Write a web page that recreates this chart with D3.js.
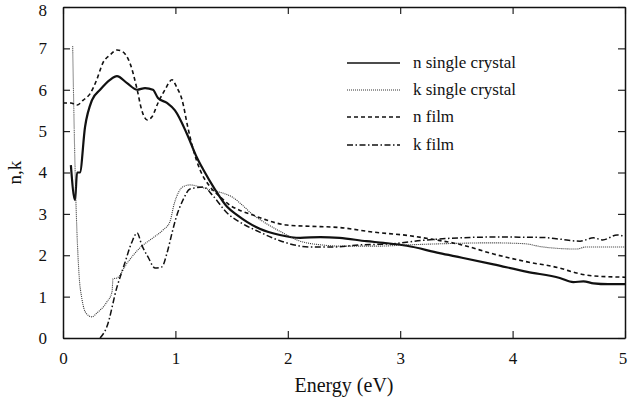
<!DOCTYPE html>
<html>
<head>
<meta charset="utf-8">
<script src="https://cdn.jsdelivr.net/npm/d3@7"></script>
<style>
  html, body { margin: 0; padding: 0; background: #fff; }
  svg { display: block; }
  svg text { font-family: "Liberation Serif", "DejaVu Serif", serif !important; fill: #111; }
</style>
</head>
<body>
<svg id="chart" width="628" height="402"></svg>
<script>
// Optical constants n and k versus photon energy (eV)
const seriesNames = ["n single crystal", "k single crystal", "n film", "k film"];

const nCrystal = [
  [0.07,4.18],[0.107,3.33],[0.125,4.0],[0.15,4.0],[0.196,5.1],[0.258,5.75],[0.33,6.0],
  [0.418,6.24],[0.48,6.33],[0.57,6.16],[0.66,6.0],[0.73,6.04],[0.80,6.0],[0.845,5.8],
  [0.925,5.68],[0.996,5.5],[1.10,4.95],[1.19,4.37],[1.25,4.06],[1.35,3.6],[1.46,3.17],
  [1.55,2.97],[1.64,2.8],[1.75,2.64],[1.93,2.49],[2.11,2.42],[2.29,2.44],[2.46,2.42],
  [2.70,2.34],[2.85,2.3],[3.06,2.23],[3.35,2.05],[3.55,1.94],[3.83,1.78],[4.13,1.6],
  [4.42,1.45],[4.54,1.35],[4.63,1.37],[4.72,1.32],[4.85,1.3],[5.0,1.3]
];

const kCrystal = [
  [0.086,7.05],[0.1,5.0],[0.115,3.3],[0.125,2.5],[0.142,1.56],[0.17,0.92],[0.205,0.6],
  [0.258,0.51],[0.30,0.6],[0.39,0.87],[0.436,1.11],[0.445,1.43],[0.48,1.45],[0.57,1.81],
  [0.685,2.18],[0.80,2.42],[0.89,2.61],[0.95,2.8],[0.99,3.25],[1.07,3.66],[1.13,3.7],
  [1.22,3.65],[1.31,3.58],[1.40,3.52],[1.51,3.4],[1.6,3.2],[1.68,3.0],[1.8,2.78],
  [1.95,2.55],[2.1,2.35],[2.3,2.25],[2.5,2.22],[2.8,2.22],[3.06,2.25],[3.4,2.28],
  [3.8,2.3],[4.1,2.28],[4.27,2.2],[4.57,2.15],[4.65,2.2],[5.0,2.2]
];

const nFilm = [
  [0.0,5.68],[0.07,5.68],[0.125,5.63],[0.18,5.75],[0.24,5.9],[0.30,6.24],[0.355,6.65],
  [0.418,6.84],[0.48,6.96],[0.53,6.92],[0.596,6.64],[0.66,6.0],[0.70,5.51],[0.75,5.27],
  [0.79,5.34],[0.845,5.68],[0.907,6.0],[0.97,6.24],[1.01,6.07],[1.06,5.75],[1.11,5.1],
  [1.16,4.54],[1.22,4.06],[1.31,3.65],[1.40,3.41],[1.49,3.2],[1.57,3.09],[1.69,2.97],
  [1.81,2.85],[1.99,2.73],[2.2,2.70],[2.46,2.67],[2.76,2.56],[3.06,2.48],[3.3,2.38],
  [3.55,2.25],[3.83,2.03],[4.13,1.84],[4.42,1.69],[4.57,1.57],[4.72,1.5],[5.0,1.47]
];

const kFilm = [
  [0.33,0.0],[0.39,0.27],[0.48,1.23],[0.55,1.81],[0.61,2.3],[0.66,2.54],[0.70,2.25],
  [0.756,1.96],[0.82,1.69],[0.88,1.72],[0.925,2.05],[0.97,2.54],[1.0,2.85],[1.07,3.35],
  [1.13,3.6],[1.25,3.65],[1.33,3.45],[1.46,3.02],[1.6,2.76],[1.75,2.56],[1.93,2.35],
  [2.2,2.2],[2.4,2.2],[2.64,2.25],[2.94,2.28],[3.2,2.36],[3.62,2.43],[3.83,2.44],
  [4.27,2.43],[4.42,2.39],[4.6,2.34],[4.72,2.42],[4.8,2.37],[4.93,2.49],[5.0,2.45]
];

const xTicks = [0, 1, 2, 3, 4, 5];
const yTicks = [0, 1, 2, 3, 4, 5, 6, 7, 8];

const margin = { top: 7, right: 3, bottom: 64, left: 63 };
const W = 628, H = 402;
const iw = W - margin.left - margin.right;
const ih = H - margin.top - margin.bottom;

const svg = d3.select("#chart");
const g = svg.append("g").attr("transform", `translate(${margin.left},${margin.top})`);

const x = d3.scaleLinear().domain([0, 5]).range([0, iw]);
const y = d3.scaleLinear().domain([0, 8]).range([ih, 0]);

// Line styles per series
const styles = [
  { data: nCrystal, width: 2.2, dash: null, color: "#111" },
  { data: kCrystal, width: 1.1, dash: "1,1", color: "#333" },
  { data: nFilm,    width: 1.6, dash: "4,3", color: "#111" },
  { data: kFilm,    width: 1.5, dash: "6,2.5,1.5,2.5", color: "#111" }
];

const line = d3.line()
  .x(d => x(d[0]))
  .y(d => y(d[1]))
  .curve(d3.curveMonotoneX);

g.append("g").selectAll("path")
  .data(styles)
  .join("path")
  .attr("d", s => line(s.data))
  .attr("fill", "none")
  .attr("stroke", s => s.color)
  .attr("stroke-width", s => s.width)
  .attr("stroke-dasharray", s => s.dash)
  .attr("stroke-linejoin", "round");

// Axes with inward ticks on all four sides
const tickLen = 7;
const fmt = d3.format("d");
const axisBottom = d3.axisBottom(x).tickValues(xTicks).tickFormat(fmt).tickSizeInner(-tickLen).tickSizeOuter(0).tickPadding(14);
const axisLeft = d3.axisLeft(y).tickValues(yTicks).tickFormat(fmt).tickSizeInner(-tickLen).tickSizeOuter(0).tickPadding(16);
const axisTop = d3.axisTop(x).tickValues(xTicks).tickSizeInner(-tickLen).tickSizeOuter(0).tickFormat("");
const axisRight = d3.axisRight(y).tickValues(yTicks).tickSizeInner(-tickLen).tickSizeOuter(0).tickFormat("");

function styleAxis(sel) {
  sel.attr("font-family", null);
  sel.selectAll(".domain").attr("stroke", "#111").attr("stroke-width", 1.5);
  sel.selectAll(".tick line").attr("stroke", "#111").attr("stroke-width", 1.1);
  sel.selectAll(".tick text").style("font-size", "17px").attr("fill", "#111");
}

const gx = g.append("g").attr("transform", `translate(0,${ih})`).call(axisBottom).call(styleAxis);
g.append("g").call(axisLeft).call(styleAxis);
g.append("g").call(axisTop).call(styleAxis);
g.append("g").attr("transform", `translate(${iw},0)`).call(axisRight).call(styleAxis);

// Corner labels kept inside the canvas
g.selectAll(".tick text").filter(d => d === 8).attr("dy", "0.5em");
gx.selectAll(".tick text").filter(d => d === 5).attr("text-anchor", "end").attr("dx", "0.1em");

// Axis titles
svg.append("text")
  .attr("x", margin.left + iw / 2)
  .attr("y", 392)
  .attr("text-anchor", "middle")
  .style("font-size", "20px")
  .text("Energy (eV)");

svg.append("text")
  .attr("transform", `translate(21,${margin.top + y(4)}) rotate(-90)`)
  .attr("text-anchor", "middle")
  .style("font-size", "19px")
  .text("n,k");

// Legend
const legend = svg.append("g");
const legY = [63, 90, 117, 145];
styles.forEach((s, i) => {
  legend.append("line")
    .attr("x1", 347).attr("x2", 400)
    .attr("y1", legY[i]).attr("y2", legY[i])
    .attr("stroke", s.color)
    .attr("stroke-width", i === 0 ? 1.6 : (i === 1 ? 1.0 : 1.3))
    .attr("stroke-dasharray", s.dash);
  legend.append("text")
    .attr("x", 413)
    .attr("y", legY[i] + 5)
    .style("font-size", "17px")
    .text(seriesNames[i]);
});
</script>
</body>
</html>
